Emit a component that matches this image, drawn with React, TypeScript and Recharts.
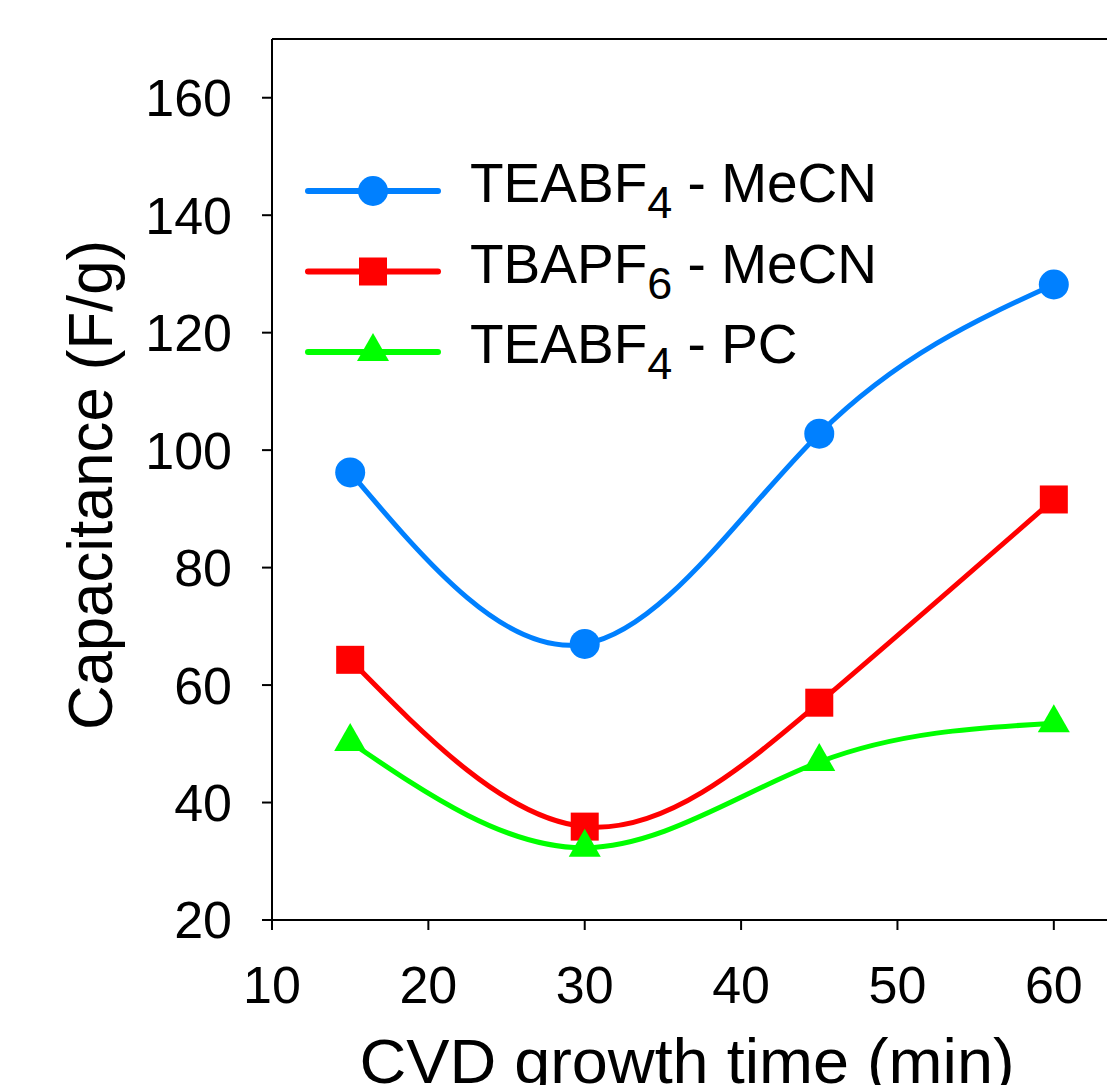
import {
  LineChart,
  Line,
  XAxis,
  YAxis,
  Label,
  Legend,
  ReferenceLine,
} from "recharts";

// growth time (min)
const times = [15, 30, 45, 60];

// capacitance (F/g) per electrolyte
const teaMeCN = [96.2, 67.0, 102.8, 128.2];
const tbaMeCN = [64.3, 35.9, 57.0, 91.6];
const teaPC = [50.3, 32.3, 46.9, 53.5];

const seriesNames = ["TEABF4 - MeCN", "TBAPF6 - MeCN", "TEABF4 - PC"];
const seriesKeys = ["teaMeCN", "tbaMeCN", "teaPC"];
const seriesColors = ["#0080ff", "#ff0000", "#00ff00"];
const seriesShapes = ["circle", "square", "triangle"];

const xTicks = [10, 20, 30, 40, 50, 60];
const yTicks = [20, 40, 60, 80, 100, 120, 140, 160];

const FONT = '"Liberation Sans", Arial, Helvetica, sans-serif';

const data = times.map((t, i) => ({
  t,
  teaMeCN: teaMeCN[i],
  tbaMeCN: tbaMeCN[i],
  teaPC: teaPC[i],
}));

function Marker({ shape, color, cx, cy }: any) {
  if (shape === "circle") {
    return <circle cx={cx} cy={cy} r={15} fill={color} />;
  }
  if (shape === "square") {
    return <rect x={cx - 14} y={cy - 14} width={28} height={28} fill={color} />;
  }
  return (
    <polygon
      points={`${cx},${cy - 19} ${cx + 16},${cy + 9} ${cx - 16},${cy + 9}`}
      fill={color}
    />
  );
}

// "TEABF4 - MeCN" -> TEABF, 4 (subscript), " - MeCN"
function SeriesName({ name, x, y }: any) {
  const m = name.match(/^([A-Z]+)(\d)(.*)$/);
  return (
    <text x={x} y={y} fontSize={55} fontFamily={FONT} fill="#000">
      <tspan>{m[1]}</tspan>
      <tspan fontSize={45} dy={16}>
        {m[2]}
      </tspan>
      <tspan dy={-16}>{m[3].replace(/ /g, "\u00a0")}</tspan>
    </text>
  );
}

function renderLegend() {
  return (
    <svg width={620} height={240}>
      {seriesNames.map((name, i) => {
        const y = 41 + i * 80.5;
        return (
          <g key={name}>
            <line
              x1={8}
              x2={138}
              y1={y}
              y2={y}
              stroke={seriesColors[i]}
              strokeWidth={6}
              strokeLinecap="round"
            />
            <Marker shape={seriesShapes[i]} color={seriesColors[i]} cx={73} cy={y} />
            <SeriesName name={name} x={170} y={y + 11} />
          </g>
        );
      })}
    </svg>
  );
}

export default function App() {
  return (
    <div
      style={{
        position: "absolute",
        left: 0,
        top: 0,
        width: 1107,
        height: 1085,
        overflow: "hidden",
        background: "#fff",
      }}
    >
      <LineChart
        width={1160}
        height={1140}
        data={data}
        margin={{ top: 39, right: 28, bottom: 120, left: 0 }}
      >
        <XAxis
          type="number"
          dataKey="t"
          domain={[10, 65]}
          ticks={xTicks}
          allowDataOverflow
          height={100}
          tickSize={10}
          tickMargin={36}
          axisLine={{ stroke: "#000", strokeWidth: 2 }}
          tickLine={{ stroke: "#000", strokeWidth: 2 }}
          tick={{ fontSize: 52, fill: "#000", fontFamily: FONT }}
        >
          <Label
            content={() => (
              <text
                x={687}
                y={1083}
                textAnchor="middle"
                fontSize={63}
                fontFamily={FONT}
                fill="#000"
                textLength={655}
                lengthAdjust="spacingAndGlyphs"
              >
                CVD growth time (min)
              </text>
            )}
          />
        </XAxis>
        <YAxis
          type="number"
          domain={[20, 170]}
          ticks={yTicks}
          allowDataOverflow
          width={272}
          tickSize={10}
          tickMargin={30}
          axisLine={{ stroke: "#000", strokeWidth: 2 }}
          tickLine={{ stroke: "#000", strokeWidth: 2 }}
          tick={{ fontSize: 52, fill: "#000", fontFamily: FONT }}
        >
          <Label
            content={() => (
              <text
                x={112}
                y={485}
                transform="rotate(-90 112 485)"
                textAnchor="middle"
                fontSize={63}
                fontFamily={FONT}
                fill="#000"
                textLength={490}
                lengthAdjust="spacingAndGlyphs"
              >
                Capacitance (F/g)
              </text>
            )}
          />
        </YAxis>

        <ReferenceLine y={170} stroke="#000" strokeWidth={2} />
        <ReferenceLine x={65} stroke="#000" strokeWidth={2} />

        {seriesKeys.map((key, i) => (
          <Line
            key={key}
            type="natural"
            dataKey={key}
            name={seriesNames[i]}
            stroke={seriesColors[i]}
            strokeWidth={5}
            isAnimationActive={false}
            activeDot={false}
            dot={(p: any) => (
              <Marker
                key={`${key}-${p.index}`}
                shape={seriesShapes[i]}
                color={seriesColors[i]}
                cx={p.cx}
                cy={p.cy}
              />
            )}
          />
        ))}

        <Legend
          layout="vertical"
          align="center"
          verticalAlign="middle"
          content={renderLegend}
          wrapperStyle={{ left: 300, top: 150, width: 620, height: 240 }}
        />
      </LineChart>
    </div>
  );
}
